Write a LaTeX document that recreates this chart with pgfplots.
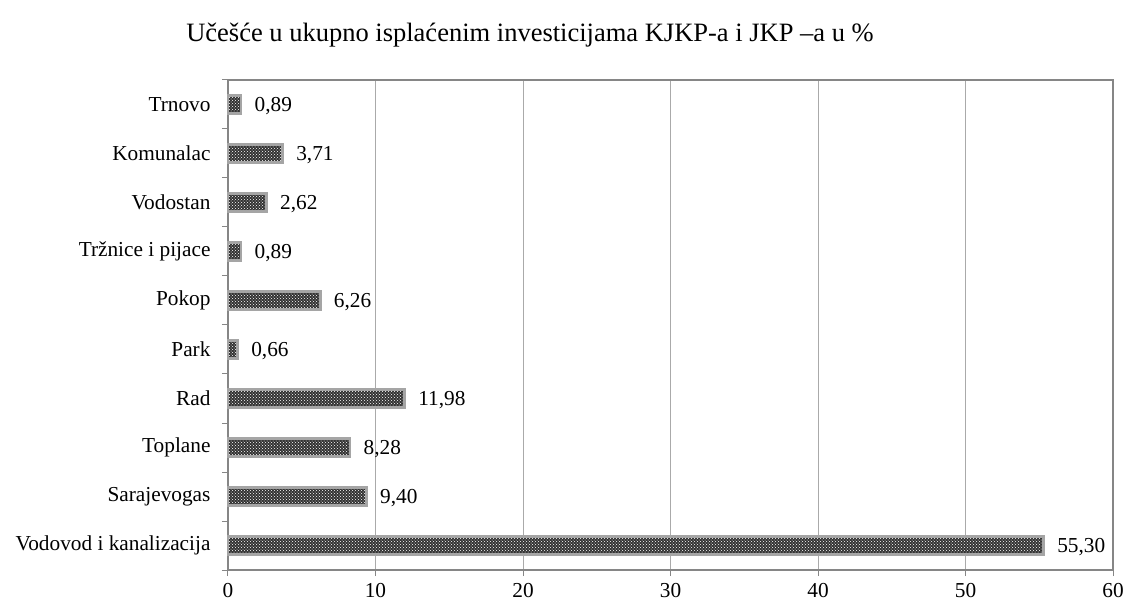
\documentclass[border=0pt]{standalone}
\usepackage{pgfplots}
\pgfplotsset{compat=1.18}
\usepackage{fontspec}
\setmainfont{Liberation Serif}
\usetikzlibrary{patterns}
\definecolor{axgray}{RGB}{134,134,134}
\definecolor{gridgray}{RGB}{170,170,170}
\definecolor{barframe}{RGB}{165,165,165}
\begin{document}
\begin{tikzpicture}
\begin{axis}[
  name=ax,
  scale only axis,
  width=885pt, height=490pt,
  xbar,
  bar width=18pt,
  xmin=0, xmax=60,
  ymin=-0.5, ymax=9.5,
  xtick={0,10,...,60},
  ytick={0,...,9},
  yticklabels={Vodovod i kanalizacija,Sarajevogas,Toplane,Rad,Park,Pokop,Tržnice i pijace,Vodostan,Komunalac,Trnovo},
  minor ytick={-0.5,0.5,...,9.5},
  major tick length=6pt,
  minor tick length=6pt,
  tick align=outside,
  tick pos=left,
  every major y tick/.append style={draw=none},
  tick style={draw=axgray, line width=1pt},
  xmajorgrids,
  grid style={draw=gridgray, line width=0.8pt},
  axis line style={draw=axgray, line width=2pt},
  tick label style={font=\fontsize{21.3}{24}\selectfont},
  /pgf/number format/assume math mode=true,
  xticklabel style={yshift=-4pt},
  yticklabel style={xshift=-8pt},
  nodes near coords,
  nodes near coords style={anchor=west, xshift=9pt, yshift=-2pt, font=\fontsize{21.3}{24}\selectfont, text=black,
    /pgf/number format/.cd, fixed, fixed zerofill, precision=2, use comma, assume math mode=true},
  clip=false,
]
\addplot[draw=barframe, line width=2.5pt, fill=black!80, postaction={pattern=crosshatch dots, pattern color=white}]
coordinates {(55.30,0) (9.40,1) (8.28,2) (11.98,3) (0.66,4) (6.26,5) (0.89,6) (2.62,7) (3.71,8) (0.89,9)};
\end{axis}
\node[font=\fontsize{26.5}{30}\selectfont] at ([xshift=302pt,yshift=45pt]ax.north west) {Učešće u ukupno isplaćenim investicijama KJKP-a i JKP –a u \%};
\pgfresetboundingbox
\path[use as bounding box] ([xshift=-228pt,yshift=-33pt]ax.south west) rectangle ([xshift=15pt,yshift=80pt]ax.north east);
\end{tikzpicture}
\end{document}
